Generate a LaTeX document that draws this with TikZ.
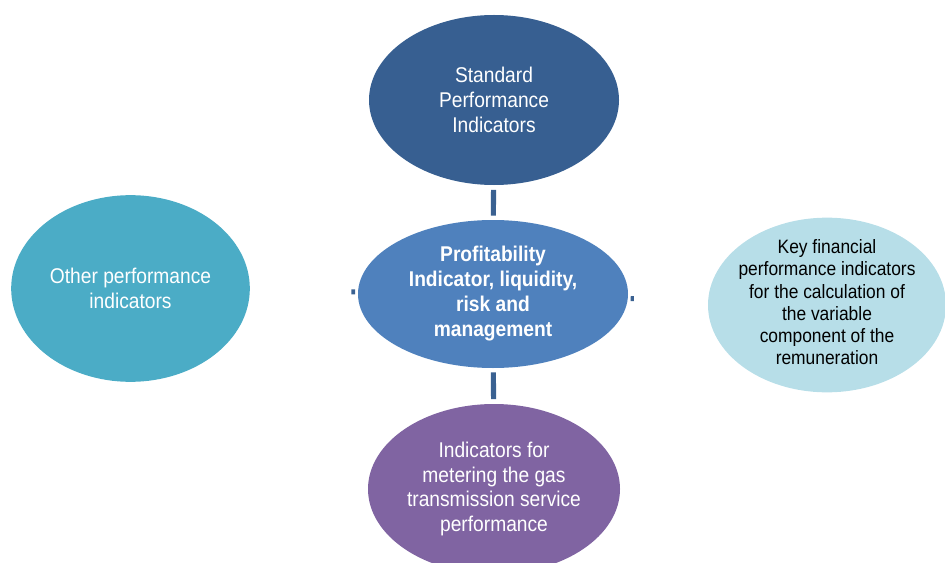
\documentclass[tikz,border=0pt]{standalone}
\usepackage{fontspec}
\setmainfont{Liberation Sans}[FakeStretch=0.9]
\usetikzlibrary{shapes.geometric}
\definecolor{cTop}{HTML}{375F91}
\definecolor{cMid}{HTML}{4F81BD}
\definecolor{cLeft}{HTML}{4BACC6}
\definecolor{cRight}{HTML}{B7DEE8}
\definecolor{cBot}{HTML}{8064A2}
\definecolor{cConn}{HTML}{3A6191}
\tikzset{
  oval/.style={ellipse, inner sep=0pt, draw=none},
  txt/.style={inner sep=0pt, align=center, text=white},
  conn/.style={draw=cConn, line width=3.8pt},
}
\begin{document}
\begin{tikzpicture}[x=0.75pt, y=-0.75pt]
\useasboundingbox (0,0) rectangle (945,563);
\node[oval, fill=cTop, minimum width=187.5pt, minimum height=127.5pt] (top) at (494,100) {};
\node[oval, fill=cMid, minimum width=202.5pt, minimum height=111pt] (mid) at (493,294) {};
\node[oval, fill=cLeft, minimum width=179pt, minimum height=140pt] (left) at (130.5,288.5) {};
\node[oval, fill=cRight, minimum width=178.5pt, minimum height=131pt] (right) at (827,305) {};
\node[oval, fill=cBot, minimum width=189pt, minimum height=127.5pt] (bot) at (494,489) {};
\node[txt, font=\fontsize{16}{19}\selectfont] (topt) at (top.center)
  {Standard\\Performance\\Indicators};
\node[txt, font=\bfseries\fontsize{16}{18.75}\selectfont] (midt) at (mid.center)
  {Profitability\\Indicator, liquidity,\\risk and\\management};
\node[txt, font=\fontsize{16}{19}\selectfont] (leftt) at (left.center)
  {Other performance\\indicators};
\node[txt, text=black, font=\fontsize{14.5}{16.7}\selectfont] (rightt) at ([yshift=2pt]right.center)
  {Key financial\\performance indicators\\for the calculation of\\the variable\\component of the\\remuneration};
\node[txt, font=\fontsize{16}{18.5}\selectfont] (bott) at (bot.center)
  {Indicators for\\metering the gas\\transmission service\\performance};
\draw[conn, shorten <=3.5pt, shorten >=3pt] (top) -- (mid);
\draw[conn, shorten <=3pt, shorten >=3.5pt] (mid) -- (bot);
\draw[conn, shorten <=76pt, shorten >=2pt] (left) -- (mid);
\draw[conn, shorten <=2pt, shorten >=55.5pt] (mid) -- (right);
\end{tikzpicture}
\end{document}
